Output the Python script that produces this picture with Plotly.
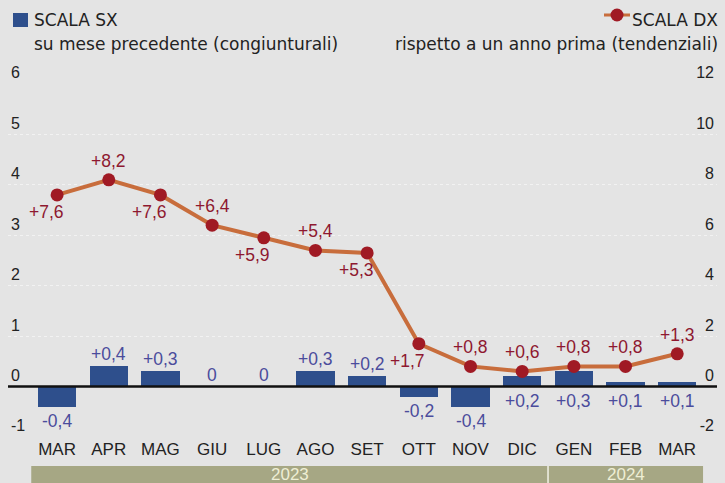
import plotly.graph_objects as go

# ---- data ----
months = ["MAR", "APR", "MAG", "GIU", "LUG", "AGO", "SET", "OTT", "NOV", "DIC", "GEN", "FEB", "MAR"]
years = ["2023", "2024"]
year_counts = [10, 3]
congiunturali = [-0.4, 0.4, 0.3, 0, 0, 0.3, 0.2, -0.2, -0.4, 0.2, 0.3, 0.1, 0.1]
tendenziali = [7.6, 8.2, 7.6, 6.4, 5.9, 5.4, 5.3, 1.7, 0.8, 0.6, 0.8, 0.8, 1.3]
left_ticks = [-1, 0, 1, 2, 3, 4, 5, 6]
right_ticks = [-2, 0, 2, 4, 6, 8, 10, 12]
legend_sx = ["SCALA SX", "su mese precedente (congiunturali)"]
legend_dx = ["SCALA DX", "rispetto a un anno prima (tendenziali)"]
# placement style for the line labels
line_label_side = ["below", "above", "below", "above", "below", "above", "below",
                   "below", "above", "above", "above", "above", "above"]

# ---- style ----
W, H = 725, 483
ML, MR, MT, MB = 8, 8, 84, 46
BG = "#e4e4e4"
BAR = "#2e4f8c"
BAR_TXT = "#4b4c9c"
LINE = "#c86d3c"
DOT = "#a01a24"
LINE_TXT = "#8e1830"
TXT = "#222222"
FONT = "Liberation Sans, Arial, sans-serif"
LEG_FONT = "DejaVu Sans, sans-serif"

pw = W - ML - MR
ph = H - MT - MB


def px(xp):
    return (xp - ML) / pw


def py(yp):
    return (H - MB - yp) / ph


def fmt(v):
    if v == 0:
        return "0"
    return f"{v:+.1f}".replace(".", ",")


xs = list(range(len(months)))

fig = go.Figure()
fig.add_trace(go.Bar(x=xs, y=congiunturali, marker=dict(color=BAR, line=dict(width=0)),
                     width=0.74, yaxis="y", hoverinfo="skip"))
fig.add_trace(go.Scatter(x=xs, y=tendenziali, yaxis="y2", mode="lines+markers",
                         line=dict(color=LINE, width=4),
                         marker=dict(color=DOT, size=13, line=dict(width=0)),
                         hoverinfo="skip"))

annotations = []
# bar labels
for i, v in enumerate(congiunturali):
    below = v < 0 or (tendenziali[i] / 2 - v) < 1
    if below:
        base = min(v, 0)
        annotations.append(dict(x=i, y=base, xref="x", yref="y", text=fmt(v),
                                showarrow=False, yanchor="top", yshift=-2,
                                font=dict(size=17.5, color=BAR_TXT, family=FONT)))
    else:
        annotations.append(dict(x=i, y=v, xref="x", yref="y", text=fmt(v),
                                showarrow=False, yanchor="bottom", yshift=0,
                                font=dict(size=17.5, color=BAR_TXT, family=FONT)))
# line labels
for i, v in enumerate(tendenziali):
    if line_label_side[i] == "below":
        xs_, ys_ = -11, -17
    else:
        xs_, ys_ = 0, 19
    annotations.append(dict(x=i, y=v, xref="x", yref="y2", text=fmt(v),
                            showarrow=False, xshift=xs_, yshift=ys_,
                            font=dict(size=17.5, color=LINE_TXT, family=FONT)))

shapes = []
# zero line
shapes.append(dict(type="line", xref="paper", yref="y", x0=0, x1=1, y0=0, y1=0,
                   line=dict(color="#111111", width=2.5), layer="above"))
# year strip
start = -0.5
for yr, n in zip(years, year_counts):
    end = start + n
    shapes.append(dict(type="rect", xref="x", yref="paper", x0=start, x1=end,
                       y0=py(484), y1=py(466), fillcolor="#a6a784",
                       line=dict(width=0), layer="above"))
    annotations.append(dict(x=(start + end) / 2, y=py(474), xref="x", yref="paper",
                            text=yr, showarrow=False, yanchor="middle",
                            font=dict(size=17, color="#eeeed4", family=FONT)))
    start = end
shapes.append(dict(type="line", xref="x", yref="paper", x0=year_counts[0] - 0.5,
                   x1=year_counts[0] - 0.5, y0=py(484), y1=py(466),
                   line=dict(color="#f2f2e6", width=1.5), layer="above"))

# legend left
shapes.append(dict(type="rect", xref="paper", yref="paper", x0=px(13), x1=px(28),
                   y0=py(27), y1=py(13), fillcolor=BAR, line=dict(width=0)))
annotations.append(dict(x=px(32), y=py(20), xref="paper", yref="paper", text=legend_sx[0],
                        showarrow=False, xanchor="left", yanchor="middle",
                        font=dict(size=17, color=TXT, family=LEG_FONT)))
annotations.append(dict(x=px(32), y=py(44), xref="paper", yref="paper", text=legend_sx[1],
                        showarrow=False, xanchor="left", yanchor="middle",
                        font=dict(size=17, color=TXT, family=LEG_FONT)))
# legend right
shapes.append(dict(type="line", xref="paper", yref="paper", x0=px(604), x1=px(630),
                   y0=py(15), y1=py(15), line=dict(color=LINE, width=3)))
shapes.append(dict(type="circle", xref="paper", yref="paper", x0=px(610.5), x1=px(623.5),
                   y0=py(21.5), y1=py(8.5), fillcolor=DOT, line=dict(width=0)))
annotations.append(dict(x=px(720), y=py(20), xref="paper", yref="paper", text=legend_dx[0],
                        showarrow=False, xanchor="right", yanchor="middle",
                        font=dict(size=17, color=TXT, family=LEG_FONT)))
annotations.append(dict(x=px(720), y=py(44), xref="paper", yref="paper", text=legend_dx[1],
                        showarrow=False, xanchor="right", yanchor="middle",
                        font=dict(size=17, color=TXT, family=LEG_FONT)))

fig.update_layout(
    width=W, height=H,
    margin=dict(l=ML, r=MR, t=MT, b=MB, pad=0),
    paper_bgcolor=BG, plot_bgcolor=BG,
    showlegend=False,
    bargap=0,
    font=dict(family=FONT, color=TXT),
    xaxis=dict(range=[-0.95, 12.77], tickvals=xs, ticktext=months, showgrid=False,
               zeroline=False, showline=False, ticks="", ticklen=0,
               tickfont=dict(size=17, color=TXT, family=FONT), fixedrange=True),
    yaxis=dict(range=[-1, 6], tickvals=left_ticks, ticktext=[str(t) for t in left_ticks],
               ticklabelposition="inside top", ticklabeloverflow="allow",
               showgrid=True, gridcolor="#f2f2f2", griddash="dot", gridwidth=1,
               zeroline=False, showline=False, ticks="",
               tickfont=dict(size=16, color=TXT, family=FONT)),
    yaxis2=dict(range=[-2, 12], overlaying="y", side="right", tickvals=right_ticks,
                ticktext=[str(t) for t in right_ticks],
                ticklabelposition="inside top", ticklabeloverflow="allow",
                showgrid=False, zeroline=False, showline=False, ticks="",
                tickfont=dict(size=16, color=TXT, family=FONT)),
    annotations=annotations,
    shapes=shapes,
)

fig.write_html("out.html", config={"displayModeBar": False},
               post_script="document.body.style.margin='0';document.body.style.overflow='hidden';")
